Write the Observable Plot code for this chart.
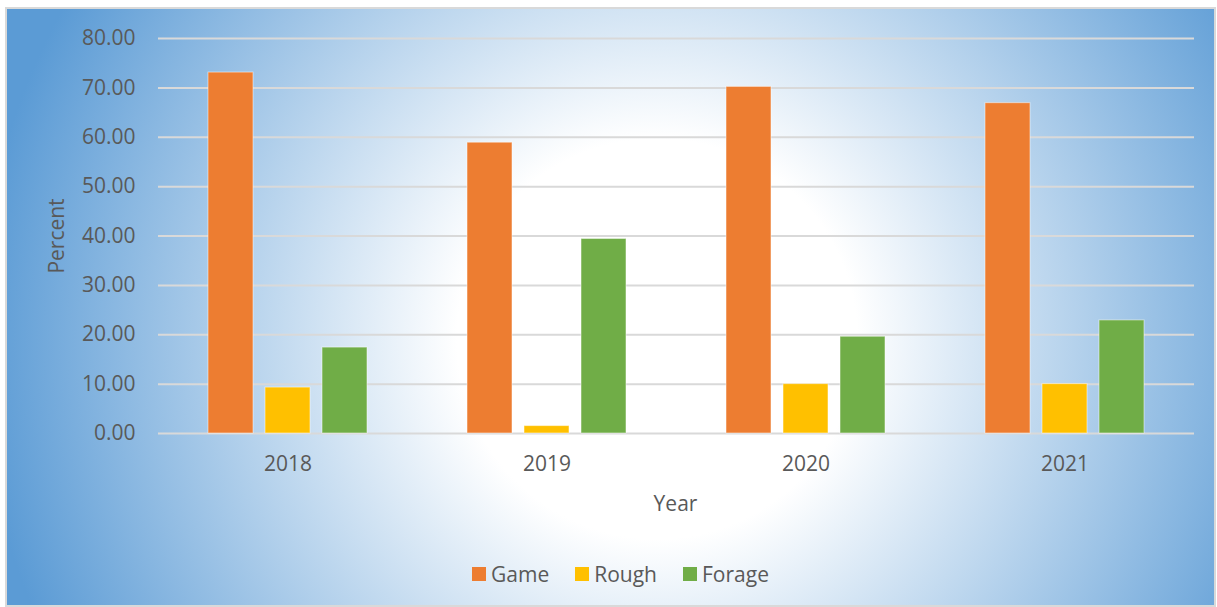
<!DOCTYPE html>
<html>
<head>
<meta charset="utf-8">
<script src="https://cdn.jsdelivr.net/npm/d3@7"></script>
<script src="https://cdn.jsdelivr.net/npm/@observablehq/plot@0.6"></script>
<style>
  html, body { margin: 0; padding: 0; background: #ffffff; }
  body { width: 1217px; height: 607px; position: relative; overflow: hidden; font-family: "Open Sans", sans-serif; color: #595959; }
  #bg {
    position: absolute; left: 5px; top: 7px; width: 1211px; height: 600px;
    box-sizing: border-box; border: 2px solid #d9d9d9;
    background: radial-gradient(circle at 650px 330px, #ffffff 0px, #ffffff 200px, #5b9bd5 680px);
  }
  #chart { position: absolute; left: 0; top: 0; }
  .title { position: absolute; font-size: 21px; color: #595959; white-space: nowrap; line-height: 1; }
  #ytitle { left: 56px; top: 235.5px; transform: translate(-50%, -50%) rotate(-90deg); }
  #xtitle { left: 675.5px; top: 503px; transform: translate(-50%, -50%); }
  #legend { position: absolute; left: 0; top: 564px; width: 1217px; display: flex; justify-content: center; padding-left: 24px; box-sizing: border-box; }
  .item { display: flex; align-items: center; margin: 0 13px; font-size: 21px; line-height: 20px; }
  .sw { width: 14px; height: 14px; margin-right: 5px; }
</style>
</head>
<body>
<div id="bg"></div>
<div id="chart"></div>
<div class="title" id="ytitle">Percent</div>
<div class="title" id="xtitle">Year</div>
<div id="legend"></div>
<script>
const years = ["2018", "2019", "2020", "2021"];
const series = ["Game", "Rough", "Forage"];
const game = [73.1, 58.9, 70.2, 66.9];
const rough = [9.3, 1.5, 10.0, 10.0];
const forage = [17.4, 39.4, 19.6, 22.9];
const yTicks = [0, 10, 20, 30, 40, 50, 60, 70, 80];
const colors = ["#ED7D31", "#FFC000", "#70AD47"];

const valuesBySeries = { Game: game, Rough: rough, Forage: forage };
const table = [];
years.forEach((yr, i) => {
  series.forEach(s => table.push({ year: yr, series: s, value: valuesBySeries[s][i] }));
});

const plot = Plot.plot({
  width: 1217,
  height: 480,
  marginLeft: 157,
  marginRight: 23,
  marginTop: 38,
  marginBottom: 47,
  style: { background: "transparent", fontFamily: "Open Sans, sans-serif", fontSize: "21px", color: "#595959" },
  fx: { domain: years, padding: 0, axis: "bottom", tickSize: 0, tickPadding: 23, label: null },
  x: { domain: series, paddingInner: 0.217, paddingOuter: 0.863, axis: null },
  y: { domain: [0, 80], ticks: yTicks, tickFormat: d => d.toFixed(2), tickSize: 0, tickPadding: 23, label: null },
  color: { domain: series, range: colors },
  marks: [
    Plot.ruleY(yTicks, { stroke: "#d9d9d9", strokeWidth: 2 }),
    Plot.barY(table, { fx: "year", x: "series", y: "value", fill: "series", stroke: "#ffffff", strokeOpacity: 0.5, strokeWidth: 1 })
  ]
});
document.getElementById("chart").appendChild(plot);

const legend = document.getElementById("legend");
series.forEach((s, i) => {
  const it = document.createElement("div");
  it.className = "item";
  const sw = document.createElement("div");
  sw.className = "sw";
  sw.style.background = colors[i];
  const tx = document.createElement("span");
  tx.textContent = s;
  it.appendChild(sw);
  it.appendChild(tx);
  legend.appendChild(it);
});
</script>
</body>
</html>
